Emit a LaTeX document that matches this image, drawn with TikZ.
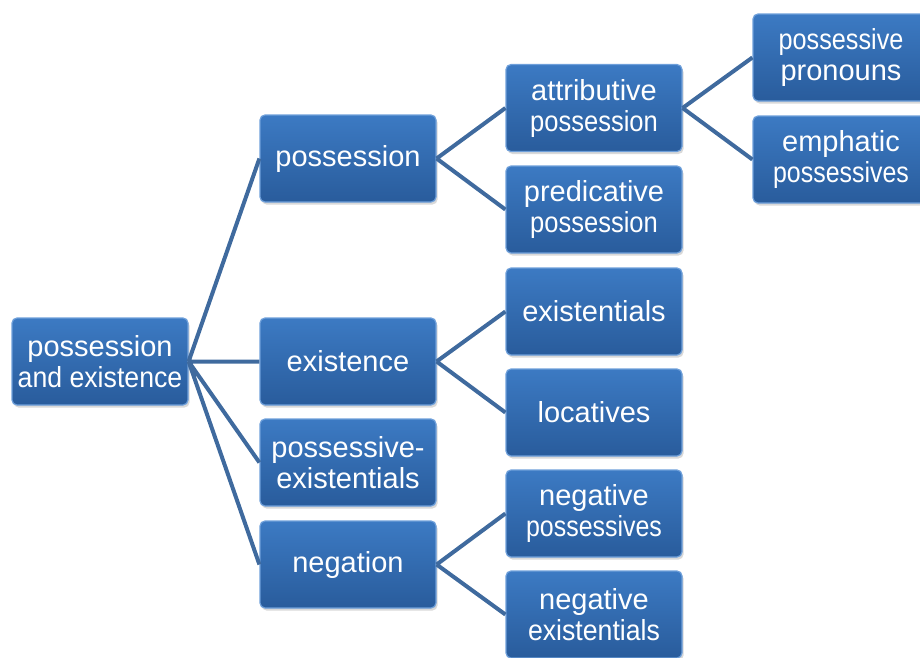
\documentclass[tikz,border=0pt]{standalone}
\usepackage{fontspec}
\setmainfont{Liberation Sans}
\usetikzlibrary{shadows}

\definecolor{boxtop}{HTML}{3C7AC3}
\definecolor{boxbot}{HTML}{295C9C}
\definecolor{boxrim}{HTML}{6E9FDA}
\definecolor{linkblue}{HTML}{3F6A9E}

\tikzset{
  box/.style={rounded corners=5pt, top color=boxtop, bottom color=boxbot,
    draw=boxrim, line width=1.2pt, minimum width=176pt, minimum height=87pt,
    inner sep=2pt, align=center, text=white,
    font=\fontsize{29}{31}\selectfont,
    drop shadow={opacity=0.3, shadow xshift=1.5pt, shadow yshift=-2.5pt}},
  link/.style={draw=linkblue, line width=4pt}
}
\newcommand{\bx}{\node[box]}
\newcommand{\sq}[2]{\scalebox{#1}[1]{#2}}

\begin{document}
\begin{tikzpicture}[x=1pt, y=-1pt]
  \useasboundingbox (0,0) rectangle (920,657);
  \clip (0,0) rectangle (920,657);

  % root
  \bx (root) at (100, 361.5) {possession\\\sq{0.92}{and existence}};

  % first level
  \bx (poss) at (348, 158.5) {possession};
  \bx (exis) at (348, 361.5) {existence};
  \bx (posx) at (348, 462.5) {possessive-\\existentials};
  \bx (nega) at (348, 564.5) {negation};

  % second level
  \bx (attr) at (594, 108)   {attributive\\\sq{0.88}{possession}};
  \bx (pred) at (594, 209.5) {predicative\\\sq{0.88}{possession}};
  \bx (exst) at (594, 311.5) {existentials};
  \bx (loca) at (594, 412.5) {locatives};
  \bx (ngps) at (594, 513.5) {negative\\\sq{0.86}{possessives}};
  \bx (ngex) at (594, 614.5) {negative\\\sq{0.92}{existentials}};

  % third level
  \bx (pron) at (841, 57.5)  {\sq{0.87}{possessive}\\pronouns};
  \bx (emph) at (841, 159.5) {emphatic\\\sq{0.86}{possessives}};

  \draw[link]
    (root.east) -- (poss.west)
    (root.east) -- (exis.west)
    (root.east) -- (posx.west)
    (root.east) -- (nega.west)
    ;

  \draw[link]
    (poss.east) -- (attr.west)
    (poss.east) -- (pred.west)
    (exis.east) -- (exst.west)
    (exis.east) -- (loca.west)
    (nega.east) -- (ngps.west)
    (nega.east) -- (ngex.west)
    (attr.east) -- (pron.west)
    (attr.east) -- (emph.west)
    ;
\end{tikzpicture}
\end{document}
